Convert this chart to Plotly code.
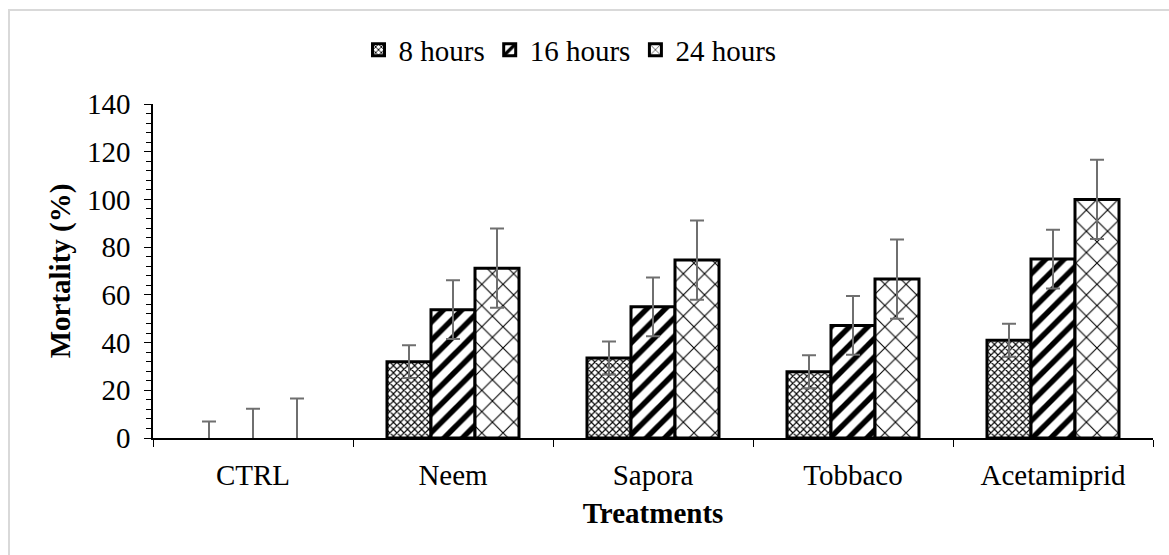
import plotly.graph_objects as go

categories = ["CTRL", "Neem", "Sapora", "Tobbaco", "Acetamiprid"]
series_names = ["8 hours", "16 hours", "24 hours"]
vals_8h = [0, 32.0, 33.5, 27.8, 41.0]
vals_16h = [0, 53.8, 55.0, 47.2, 75.0]
vals_24h = [0, 71.2, 74.6, 66.6, 100.0]
err_8h = [6.9, 6.9, 6.9, 6.9, 6.9]
err_16h = [12.3, 12.3, 12.3, 12.3, 12.3]
err_24h = [16.6, 16.6, 16.6, 16.6, 16.6]
y_ticks = [0, 20, 40, 60, 80, 100, 120, 140]

FONT = "Liberation Serif"
patterns = [
    dict(shape="x", size=5, solidity=0.4, fgcolor="black", bgcolor="white", fgopacity=1),
    dict(shape="/", size=13, solidity=0.42, fgcolor="black", bgcolor="white", fgopacity=1),
    dict(shape="x", size=15, solidity=0.14, fgcolor="black", bgcolor="white", fgopacity=1),
]

fig = go.Figure()
for name, vals, errs, pat in zip(series_names, [vals_8h, vals_16h, vals_24h],
                                 [err_8h, err_16h, err_24h], patterns):
    line_w = [0 if v == 0 else 3 for v in vals]
    fig.add_trace(go.Bar(
        x=categories, y=vals, name=name, offsetgroup=name, showlegend=False,
        marker=dict(color="white", line=dict(color="black", width=line_w), pattern=pat),
        error_y=dict(type="data", array=errs, visible=True, color="#6f6f6f",
                     thickness=2, width=7),
    ))
    # legend entry
    fig.add_trace(go.Bar(
        x=[categories[0]], y=[None], name=name, offsetgroup=name, showlegend=True,
        marker=dict(color="white", line=dict(color="black", width=3), pattern=pat),
    ))

fig.update_layout(
    width=1169, height=555,
    margin=dict(l=153, r=16, t=104, b=117),
    paper_bgcolor="white", plot_bgcolor="white",
    font=dict(family=FONT, size=29, color="black"),
    barmode="group", bargap=0.34, bargroupgap=0,
    showlegend=True,
    legend=dict(orientation="h", x=0.417, xanchor="center", y=1.162, yanchor="middle",
                font=dict(family=FONT, size=29), itemwidth=30, tracegroupgap=0),
    shapes=[dict(type="rect", xref="paper", yref="paper",
                 x0=-0.144, x1=1.2, y0=1.2814, y1=-0.6,
                 line=dict(color="#d9d9d9", width=2), fillcolor="rgba(0,0,0,0)",
                 layer="below")],
)
fig.update_xaxes(
    showline=True, linecolor="black", linewidth=1.5,
    ticks="outside", tickson="boundaries", ticklen=7, tickcolor="black",
    showgrid=False, tickfont=dict(family=FONT, size=29), ticklabelstandoff=10,
    title=dict(text="<b>Treatments</b>", font=dict(family=FONT, size=29), standoff=13),
)
fig.update_yaxes(
    range=[0, 140], tickvals=y_ticks, showline=True, linecolor="black", linewidth=1.5,
    ticks="outside", ticklen=7, tickcolor="black", showgrid=False, zeroline=False,
    minor=dict(dtick=4, ticks="outside", ticklen=5, tickcolor="black", showgrid=False),
    tickfont=dict(family=FONT, size=29), ticklabelstandoff=8,
    title=dict(text="<b>Mortality (%)</b>", font=dict(family=FONT, size=29), standoff=8),
)
fig.write_html("out.html")
